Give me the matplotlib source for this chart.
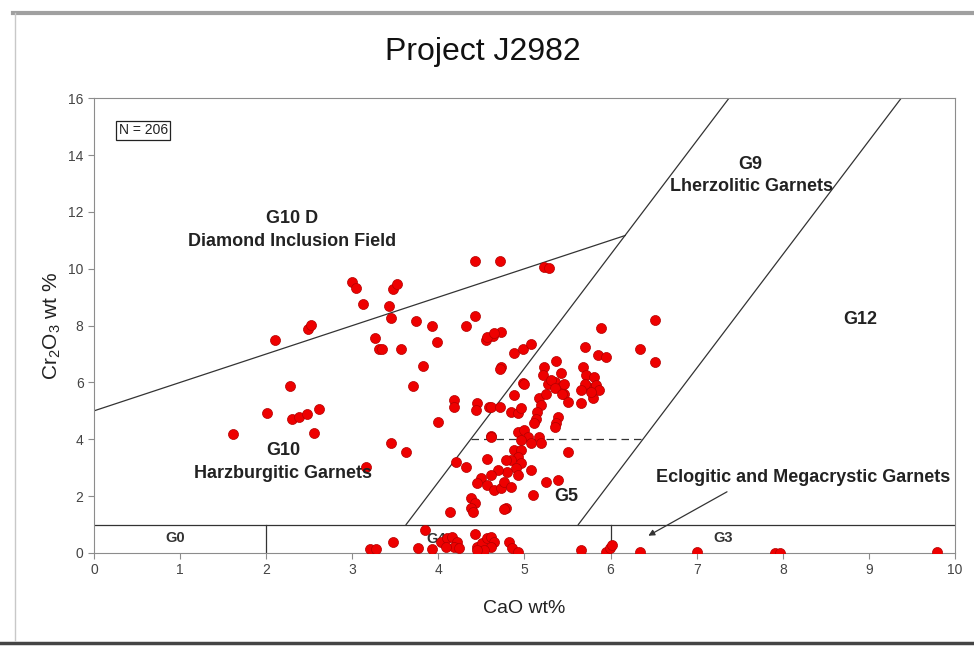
import matplotlib.pyplot as plt
from matplotlib.lines import Line2D

plt.rcParams['font.family'] = ['Liberation Sans', 'DejaVu Sans']
plt.rcParams['mathtext.fontset'] = 'custom'
plt.rcParams['mathtext.rm'] = 'Liberation Sans'
plt.rcParams['mathtext.it'] = 'Liberation Sans:italic'

# garnet analyses, CaO and Cr2O3 in wt%
cao = [
    # harzburgitic / diamond inclusion field
    1.62, 2.01, 2.28, 2.30, 2.38, 2.47, 2.61, 2.56, 2.10, 2.49, 2.52,
    3.00, 3.04, 3.12, 3.26, 3.31, 3.35, 3.43, 3.45, 3.47, 3.52, 3.56,
    3.74, 3.92, 3.98, 3.82, 3.70, 4.32, 4.42, 4.42, 4.71, 3.45, 3.62,
    3.16, 3.99, 4.18, 4.18, 4.45, 4.44, 4.59, 4.20, 4.32, 4.61,
    # G9 / G5 cluster
    5.23, 5.29, 4.55, 4.63, 4.73, 4.88, 4.98, 5.08, 4.57, 4.65, 4.73,
    4.71, 4.98, 4.88, 5.00, 4.61, 4.71, 4.84, 4.92, 4.96,
    5.17, 5.19, 5.15, 5.13, 5.11, 5.27, 5.35, 5.42, 5.46, 5.50,
    5.66, 5.79, 5.74, 5.39, 5.37, 5.35, 4.61, 4.92, 5.00, 5.04, 4.96,
    5.08, 5.17, 5.19, 4.88, 4.96, 4.92, 4.84, 4.96, 4.90, 4.80, 4.92,
    5.08, 5.50, 4.57, 4.78, 4.69, 4.61, 4.49, 4.45, 4.57, 4.65, 4.73,
    4.76, 4.84, 5.25, 5.39, 5.10, 4.38, 4.42, 4.38, 4.13, 4.78, 4.40,
    4.76, 5.37, 5.23, 5.21, 5.31, 5.42, 5.46, 5.35, 5.25, 5.44,
    5.68, 5.72, 5.81, 5.70, 5.83, 5.87, 5.77, 5.66,
    5.70, 5.85, 5.95, 5.89, 6.51, 6.34, 6.51,
    # below 1 wt% Cr2O3
    3.85, 3.47, 3.21, 3.27, 3.76, 3.93, 4.03, 4.10, 4.16, 4.22, 4.18,
    4.24, 4.09, 4.42, 4.45, 4.51, 4.57, 4.61, 4.65, 4.61, 4.53, 4.45,
    4.82, 4.86, 4.92, 5.66, 5.95, 5.99, 6.02, 6.34, 7.00, 7.91, 7.97, 9.79,
]
cr2o3 = [
    4.18, 4.91, 5.87, 4.73, 4.79, 4.89, 5.05, 4.23, 7.51, 7.87, 8.01,
    9.54, 9.31, 8.75, 7.57, 7.19, 7.19, 8.69, 8.28, 9.27, 9.48, 7.16,
    8.17, 7.99, 7.43, 6.58, 5.88, 7.98, 8.33, 10.27, 10.27, 3.86, 3.56,
    3.03, 4.62, 5.38, 5.14, 5.26, 5.03, 5.14, 3.21, 3.03, 4.11,
    10.06, 10.04, 7.49, 7.63, 7.78, 7.04, 7.16, 7.35, 7.61, 7.74, 6.53,
    6.49, 5.99, 5.55, 5.96, 5.14, 5.14, 4.97, 4.91, 5.09,
    5.44, 5.20, 4.97, 4.73, 4.56, 5.96, 6.02, 5.85, 5.61, 5.32,
    5.26, 5.44, 5.85, 4.79, 4.56, 4.44, 4.09, 4.26, 4.32, 4.09, 3.97,
    3.86, 4.09, 3.86, 3.62, 3.62, 3.38, 3.27, 3.15, 2.98, 2.86, 2.74,
    2.92, 3.56, 3.29, 3.27, 2.92, 2.74, 2.63, 2.45, 2.39, 2.21, 2.27,
    2.51, 2.33, 2.51, 2.57, 2.04, 1.92, 1.75, 1.57, 1.45, 1.57, 1.45,
    1.55, 6.76, 6.55, 6.26, 6.08, 6.32, 5.96, 5.79, 5.61, 5.61,
    6.55, 6.26, 6.20, 5.96, 5.91, 5.73, 5.67, 5.73,
    7.23, 6.96, 6.90, 7.93, 8.19, 7.19, 6.72,
    0.81, 0.40, 0.13, 0.13, 0.19, 0.13, 0.40, 0.52, 0.57, 0.40, 0.22,
    0.16, 0.22, 0.66, 0.22, 0.34, 0.52, 0.57, 0.40, 0.22, 0.10, 0.10,
    0.40, 0.16, 0.05, 0.10, 0.05, 0.16, 0.28, 0.02, 0.02, 0.01, 0.01, 0.05,
]

# field boundaries
g10d_line = ([0, 6.17], [5, 11.17])
lherz_line = ([3.625, 7.375], [1, 16])
g12_line = ([5.625, 9.375], [1, 16])
g5_split = ([4.375, 6.375], [4, 4])

fig = plt.figure(figsize=(9.74, 6.46), dpi=100)
ax = fig.add_axes([0.0965, 0.144, 0.884, 0.704])

ax.plot(*g10d_line, color='#333333', lw=0.9)
ax.plot(*lherz_line, color='#333333', lw=0.9)
ax.plot(*g12_line, color='#333333', lw=0.9)
ax.plot(*g5_split, color='#333333', lw=0.9, ls=(0, (6, 4)))
ax.plot([0, 10], [1, 1], color='#333333', lw=0.9)
ax.plot([2, 2], [0, 1], color='#333333', lw=0.9)
ax.plot([6, 6], [0, 1], color='#333333', lw=0.9)

ax.scatter(cao, cr2o3, s=52, c='#ee0000', edgecolors='#b30000',
           linewidths=0.5, zorder=3)

ax.set_xlim(0, 10)
ax.set_ylim(0, 16)
ax.set_xticks(range(0, 11))
ax.set_yticks(range(0, 17, 2))
for s in ax.spines.values():
    s.set_color('#8c8c8c')
ax.tick_params(direction='out', length=4, color='#8c8c8c',
               labelcolor='#444444', labelsize=10)

ax.set_xlabel('CaO wt%', fontsize=14, color='#222222', labelpad=16)
ax.set_ylabel('Cr$_2$O$_3$ wt %', fontsize=15, color='#222222', labelpad=4)
fig.text(0.496, 0.920, 'Project J2982', ha='center', va='center',
         fontsize=23, color='#111111')

bold = dict(ha='center', va='center', fontsize=13, fontweight='bold',
            color='#222222')
ax.text(2.3, 11.78, 'G10 D', **bold)
ax.text(2.3, 10.97, 'Diamond Inclusion Field', **bold)
ax.text(7.62, 13.67, 'G9', **bold)
ax.text(7.64, 12.9, 'Lherzolitic Garnets', **bold)
ax.text(8.9, 8.22, 'G12', **bold)
ax.text(2.2, 3.59, 'G10', **bold)
ax.text(2.2, 2.81, 'Harzburgitic Garnets', **bold)
ax.text(5.49, 1.97, 'G5', **bold)
ax.text(8.24, 2.64, 'Eclogitic and Megacrystic Garnets', **bold)
small = dict(ha='center', va='center', fontsize=10.5, fontweight='bold',
             color='#333333')
ax.text(0.94, 0.53, 'G0', **small)
ax.text(3.97, 0.5, 'G4', zorder=2, **small)
ax.text(7.31, 0.53, 'G3', **small)

ax.annotate('', xy=(6.41, 0.56), xytext=(7.38, 2.2),
            arrowprops=dict(arrowstyle='-|>', color='#333333', lw=0.9,
                            mutation_scale=9))

ax.text(0.57, 14.87, 'N = 206', ha='center', va='center', fontsize=10,
        color='#222222',
        bbox=dict(boxstyle='square,pad=0.2', fc='white', ec='#222222', lw=0.9))

# surrounding chart frame
fig.add_artist(Line2D([0.013, 1.0], [0.98, 0.98], color='#a0a0a0', lw=3,
                      transform=fig.transFigure))
fig.add_artist(Line2D([0.015, 0.015], [0.01, 0.98], color='#c8c8c8', lw=1,
                      transform=fig.transFigure))
fig.add_artist(Line2D([0.0, 1.0], [0.004, 0.004], color='#444444', lw=2.5,
                      transform=fig.transFigure))

fig.savefig('out.png', dpi=100)
